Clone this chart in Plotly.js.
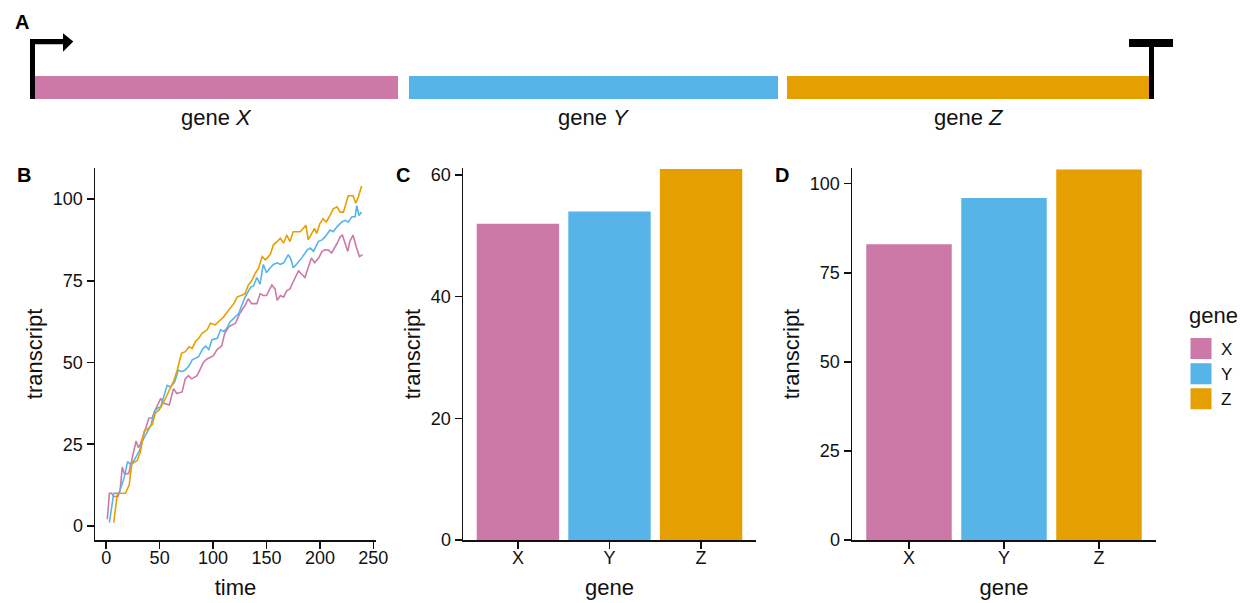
<!DOCTYPE html>
<html><head><meta charset="utf-8">
<script src="https://cdn.plot.ly/plotly-3.0.1.min.js"></script>
<style>html,body{margin:0;padding:0;background:#fff}</style>
</head><body><div id="chart" style="width:1240px;height:603px"></div>
<script>
// ---- data ----
const genes = ['X', 'Y', 'Z'];
const geneColors = ['#CC79A7', '#56B4E9', '#E69F00'];
// panel A: schematic gene lengths / starts (arbitrary units)
const geneStart = [0, 374, 752];
const geneLength = [363, 369, 363];
// panel B: transcript over time
const timeX = [1,3,5,7,11,13,15,17,21,24,28,30,32,35,40,43,46,51,54,59,63,66,71,74,77,80,85,88,91,94,100,104,108,111,115,121,125,130,133,136,141,144,147,150,155,158,160,163,166,169,172,175,180,183,186,189,192,195,199,202,205,208,211,216,219,221,224,226,228,231,234,237,240];
const transcriptX = [2,10,10,9,9,11,18,16,16,20,26,24,25,28,33,33,35.5,39,37.5,37,42,40.5,41,45,46,45,46,48,50,51,52,54,55,59,61,62,65,67.5,69.5,68,68,71,70.5,70.5,73.7,72.5,69,70.5,70,72,72.5,74.7,78,77,76,79,82,80.5,82,84,84.5,84.4,83.5,86.4,88.5,89,86,84,87,89,85.4,82.4,83];
const timeY = [3,6,7,12,17,20,23,26,31,34,38.5,42,45,48,51,54,57,60,64,67.5,70.5,74,77.5,80.5,83.5,86.5,90,93,96,99,104,107,110,113,116,121,124,127,130,135,138,141,144,147,150,153.5,156.5,160,163,166,169,170.5,173,175,178,183,188,191,194,198.5,202,205,209.5,212.5,216,220.5,223.5,226.5,230,233,234.5,236.5,239];
const transcriptY = [1,8,10,10,15,19.7,18.7,20,23,26,29,31,35,36,36.5,40,43,42.5,44,47.7,47.2,47.7,49,50.8,51.3,51.8,54,55,54,57,57.4,60,59.5,60.5,62.5,64,65,67.6,70,73,73.5,76,74,80,77.5,79,80,80.5,80,80.5,82,83,81.5,79,80,82,84.4,85,84,87,87.5,88.5,90.5,90,91.5,93,93.5,93,94.6,94.6,98,95,96];
const timeZ = [7,10.5,18,21.5,24,29,32,35.5,40,43,46,49.5,54,59,63.5,66.5,70.5,74,77.5,80.5,83.5,86.5,90,94.5,97.5,102,107,110,114.5,119.5,122.5,127,130,133,136.5,139.5,142.5,146,149,153.5,156.5,160,163,166,169,172,175,181.5,185,187,189,192.5,195,197,200,203,206,209.5,212.5,216,219,222,226.5,231,233.5,236,239];
const transcriptZ = [1,10,10,12.5,19,20,22.7,29,30,31,34.5,35.5,38,41.5,44.6,47.7,52.8,53.3,54.8,54.3,56.4,57.4,59,60,62,61.5,63,64,66,68,70,70.6,71,73.7,75.2,77.3,78.8,82.4,81.4,83,86,87,88,86.5,89,87,90,90,91.5,92,87.5,89.5,91,89.5,92.5,94,93,95,97,97.6,96,96,101,101,98.7,100.7,104];
// panel C and D: transcript per gene
const transcriptC = [52, 54, 61];
const transcriptD = [83, 96, 104];
const xTicksB = [0, 50, 100, 150, 200, 250];
const yTicksB = [0, 25, 50, 75, 100];
const yTicksC = [0, 20, 40, 60];
const yTicksD = [0, 25, 50, 75, 100];

// ---- helpers ----
const W = 1240, H = 603;
const px = v => v / W;
const py = v => 1 - v / H;
const FONT = 'Liberation Sans, Arial, Helvetica, sans-serif';
const INK = '#111111';

function axisStyle(extra) {
  return Object.assign({
    showline: true, linecolor: INK, linewidth: 1.5,
    ticks: 'outside', ticklen: 7, tickwidth: 1.5, tickcolor: INK,
    showgrid: false, zeroline: false,
    tickfont: {size: 18, color: INK, family: FONT},
    fixedrange: true
  }, extra);
}
const xTitle = t => ({text: t, font: {size: 22, color: INK}, standoff: 12});
const yTitle = t => ({text: t, font: {size: 22, color: INK}, standoff: 4});

const traces = [];
// Panel A gene bars
traces.push({
  type: 'bar', orientation: 'h', xaxis: 'x4', yaxis: 'y4',
  y: genes.map(() => 22.5), x: geneLength, base: geneStart, width: 23,
  marker: {color: geneColors, line: {width: 0}},
  showlegend: false, hoverinfo: 'skip'
});
// Panel B lines
const tB = [timeX, timeY, timeZ], vB = [transcriptX, transcriptY, transcriptZ];
genes.forEach((g, i) => traces.push({
  type: 'scatter', mode: 'lines', xaxis: 'x', yaxis: 'y',
  x: tB[i], y: vB[i], line: {color: geneColors[i], width: 1.6},
  name: g, showlegend: false
}));
// Panel C and D bars
genes.forEach((g, i) => traces.push({
  type: 'bar', xaxis: 'x2', yaxis: 'y2', x: [g], y: [transcriptC[i]],
  marker: {color: geneColors[i], line: {width: 0}}, name: g, showlegend: false
}));
genes.forEach((g, i) => traces.push({
  type: 'bar', xaxis: 'x3', yaxis: 'y3', x: [g], y: [transcriptD[i]],
  marker: {color: geneColors[i], line: {width: 0}}, name: g, showlegend: false
}));
// legend keys (filled squares)
genes.forEach((g, i) => traces.push({
  type: 'scatter', mode: 'markers', xaxis: 'x4', yaxis: 'y4', x: [null], y: [null],
  marker: {symbol: 'square', size: 16, color: geneColors[i], line: {color: geneColors[i], width: 5}},
  name: g, showlegend: true, hoverinfo: 'skip'
}));

const yDom = [py(540), py(168)];
const layout = {
  width: W, height: H,
  margin: {l: 0, r: 0, t: 0, b: 0},
  paper_bgcolor: '#fff', plot_bgcolor: 'rgba(0,0,0,0)',
  font: {family: FONT, color: INK},
  barmode: 'overlay', bargap: 0.1,
  showlegend: true,
  legend: {
    x: px(1181), xanchor: 'left', y: py(331), yanchor: 'top',
    font: {size: 17, color: INK}, bgcolor: 'rgba(0,0,0,0)', tracegroupgap: 0
  },
  xaxis: axisStyle({domain: [px(95), px(376)], range: [-10.5, 252.5], tickvals: xTicksB,
    ticklabelstandoff: -6, title: xTitle('time'), anchor: 'y'}),
  yaxis: axisStyle({domain: yDom, range: [-4.3, 109.5], tickvals: yTicksB,
    title: yTitle('transcript'), anchor: 'x'}),
  xaxis2: axisStyle({domain: [px(463), px(756)], range: [-0.6, 2.6], type: 'category',
    ticklabelstandoff: -6, title: xTitle('gene'), anchor: 'y2'}),
  yaxis2: axisStyle({domain: yDom, range: [0, 61.15], tickvals: yTicksC,
    title: yTitle('transcript'), anchor: 'x2'}),
  xaxis3: axisStyle({domain: [px(852), px(1156)], range: [-0.6, 2.6], type: 'category',
    ticklabelstandoff: -6, title: xTitle('gene'), anchor: 'y3'}),
  yaxis3: axisStyle({domain: yDom, range: [0, 104.4], tickvals: yTicksD,
    title: yTitle('transcript'), anchor: 'x3'}),
  xaxis4: {domain: [px(20), px(1190)], range: [-15, 1155], visible: false, fixedrange: true, anchor: 'y4'},
  yaxis4: {domain: [py(110), py(30)], range: [0, 80], visible: false, fixedrange: true, anchor: 'x4'},
  shapes: [
    // promoter arrow
    {type: 'rect', xref: 'x4', yref: 'y4', x0: -5, x1: 0, y0: 11, y1: 71, fillcolor: '#000', line: {width: 0}},
    {type: 'rect', xref: 'x4', yref: 'y4', x0: -5, x1: 28.5, y0: 65.8, y1: 71, fillcolor: '#000', line: {width: 0}},
    {type: 'path', xref: 'x4', yref: 'y4', path: 'M28,76.7 L38.3,68.4 L28,58.3 Z', fillcolor: '#000', line: {width: 0}},
    // terminator
    {type: 'rect', xref: 'x4', yref: 'y4', x0: 1114, x1: 1119, y0: 11, y1: 63.5, fillcolor: '#000', line: {width: 0}},
    {type: 'rect', xref: 'x4', yref: 'y4', x0: 1094, x1: 1138, y0: 63, y1: 71, fillcolor: '#000', line: {width: 0}}
  ],
  annotations: [
    ...genes.map((g, i) => ({
      xref: 'x4', yref: 'paper', x: geneStart[i] + geneLength[i] / 2, y: py(117),
      text: 'gene <i>' + g + '</i>', showarrow: false, font: {size: 22, color: INK},
      xanchor: 'center', yanchor: 'middle'
    })),
    {xref: 'paper', yref: 'paper', x: px(1187), y: py(316), text: 'gene', showarrow: false,
      font: {size: 22, color: INK}, xanchor: 'left', yanchor: 'middle'},
    ...[['A', 22, 22], ['B', 24, 175], ['C', 403, 175], ['D', 782, 175]].map(([t, x, y]) => ({
      xref: 'paper', yref: 'paper', x: px(x), y: py(y), text: '<b>' + t + '</b>',
      showarrow: false, font: {size: 20, color: '#000'}, xanchor: 'center', yanchor: 'middle'
    }))
  ]
};
Plotly.newPlot('chart', traces, layout, {staticPlot: true, displayModeBar: false});
</script></body></html>
